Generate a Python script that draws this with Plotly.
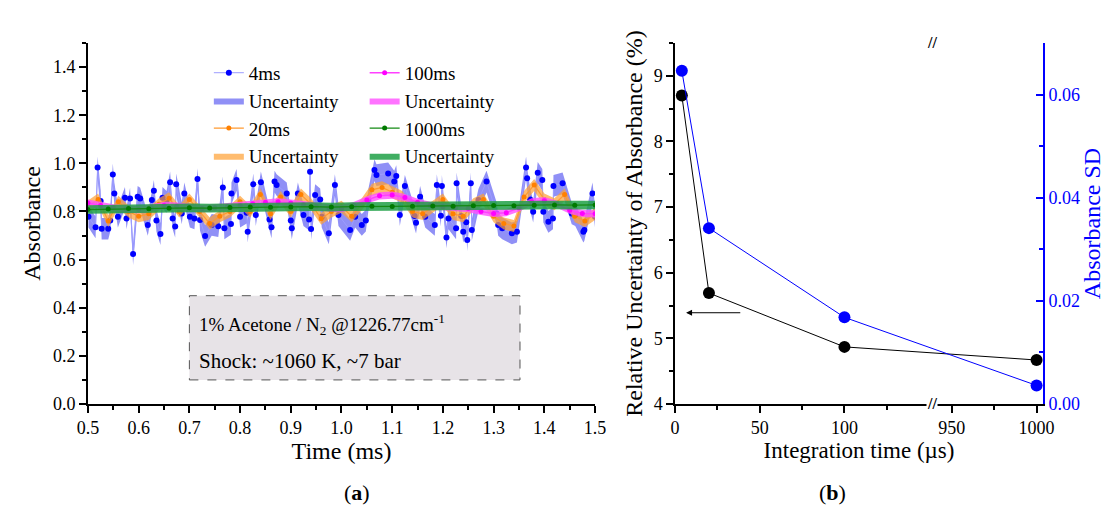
import plotly.graph_objects as go

# ---------------- Panel (a) data ----------------
t4 = [0.501,0.515,0.519,0.525,0.527,0.540,0.544,0.549,0.552,0.559,0.573,0.576,0.583,0.589,0.598,0.603,
      0.618,0.626,0.630,0.635,0.643,0.647,0.655,0.662,0.667,0.672,0.674,0.685,0.690,0.701,0.710,0.716,
      0.721,0.731,0.744,0.757,0.766,0.769,0.782,0.783,0.793,0.800,0.813,0.815,0.826,0.831,0.841,0.858,
      0.862,0.868,0.872,0.892,0.900,0.902,0.914,0.925,0.936,0.938,0.940,0.948,0.958,0.961,0.975,0.987,
      0.994,1.017,1.027,1.040,1.048,1.053,1.065,1.069,1.092,1.104,1.108,1.115,1.125,1.144,1.147,1.155,
      1.165,1.184,1.188,1.196,1.198,1.207,1.211,1.226,1.227,1.236,1.240,1.246,1.248,1.255,1.257,1.270,
      1.286,1.306,1.309,1.317,1.336,1.346,1.364,1.366,1.372,1.378,1.387,1.396,1.398,1.408,1.417,1.418,
      1.436,1.454,1.461,1.477,1.479,1.495,1.500]
v4 = [0.778,0.734,0.983,0.843,0.728,0.728,0.762,0.954,0.875,0.778,0.857,0.771,0.854,0.623,0.861,0.854,
      0.744,0.848,0.886,0.762,0.706,0.857,0.840,0.921,0.771,0.737,0.913,0.792,0.875,0.778,0.771,0.935,
      0.765,0.698,0.744,0.739,0.900,0.730,0.748,0.875,0.931,0.778,0.795,0.716,0.913,0.785,0.921,0.767,
      0.734,0.924,0.910,0.875,0.762,0.730,0.875,0.785,0.767,0.965,0.727,0.868,0.850,0.778,0.709,0.910,
      0.785,0.723,0.778,0.744,0.762,0.848,0.972,0.951,0.958,0.924,0.947,0.785,0.906,0.781,0.753,0.861,
      0.778,0.744,0.910,0.782,0.906,0.692,0.771,0.730,0.917,0.781,0.716,0.755,0.681,0.917,0.723,0.848,
      0.924,0.792,0.744,0.730,0.709,0.716,0.983,0.938,0.850,0.799,0.961,0.931,0.799,0.757,0.771,0.906,
      0.917,0.792,0.785,0.716,0.723,0.875,0.778]

t20 = [0.50,0.52,0.54,0.56,0.58,0.60,0.62,0.64,0.66,0.68,0.70,0.72,0.74,0.76,0.78,0.80,0.82,0.84,0.86,
       0.88,0.90,0.92,0.94,0.96,0.98,1.00,1.02,1.04,1.06,1.08,1.10,1.12,1.14,1.16,1.18,1.20,1.22,1.24,
       1.26,1.28,1.30,1.32,1.34,1.36,1.38,1.40,1.42,1.44,1.46,1.48,1.50]
v20 = [0.82,0.85,0.76,0.84,0.80,0.78,0.79,0.83,0.855,0.80,0.85,0.80,0.75,0.78,0.80,0.84,0.80,0.87,0.79,
       0.86,0.80,0.87,0.83,0.77,0.80,0.82,0.78,0.83,0.89,0.90,0.88,0.86,0.80,0.79,0.82,0.85,0.79,0.78,
       0.83,0.85,0.78,0.75,0.74,0.86,0.91,0.85,0.83,0.87,0.78,0.76,0.79]

t100 = [0.500,0.525,0.550,0.575,0.600,0.625,0.650,0.675,0.700,0.725,0.750,0.775,0.800,0.825,0.850,0.875,
        0.900,0.925,0.950,0.975,1.000,1.025,1.050,1.075,1.100,1.125,1.150,1.175,1.200,1.225,1.250,1.275,
        1.300,1.325,1.350,1.375,1.400,1.425,1.450,1.475,1.500]
v100 = [0.835,0.825,0.815,0.810,0.808,0.815,0.825,0.822,0.818,0.812,0.815,0.820,0.825,0.832,0.838,0.840,
        0.835,0.828,0.822,0.815,0.812,0.825,0.848,0.865,0.868,0.858,0.838,0.825,0.820,0.815,0.812,0.800,
        0.792,0.795,0.815,0.840,0.845,0.830,0.805,0.792,0.790]

t1000 = [0.50,0.54,0.58,0.62,0.66,0.70,0.74,0.78,0.82,0.86,0.90,0.94,0.98,1.02,1.06,1.10,1.14,1.18,1.22,
         1.26,1.30,1.34,1.38,1.42,1.46,1.50]
v1000 = [0.808,0.810,0.812,0.811,0.813,0.815,0.814,0.816,0.818,0.817,0.819,0.820,0.818,0.820,0.822,0.821,
         0.822,0.823,0.822,0.824,0.825,0.824,0.826,0.827,0.826,0.827]

unc4, unc20, unc100, unc1000 = 0.045, 0.025, 0.015, 0.018

# ---------------- Panel (b) data ----------------
int_time = [4, 20, 100, 1000]
rel_unc = [8.70, 5.69, 4.87, 4.67]
abs_sd = [0.0646, 0.0341, 0.0168, 0.0036]
xb_tickvals = [0, 50, 100, 950, 1000]
xb_minor = [25, 75, 125, 975]
BREAK_LO, BREAK_HI = 151.7, 938.3


def brk(v):
    return v if v <= BREAK_LO else v - (BREAK_HI - BREAK_LO)


FONT = "Liberation Serif"
fig = go.Figure()


def add_series(t, v, unc, name, lcolor, mcolor, bandcolor, msize, lwidth, legend, r):
    fig.add_trace(go.Scatter(x=t, y=[a + unc for a in v], mode="lines", line=dict(width=0),
                             showlegend=False, hoverinfo="skip", xaxis="x", yaxis="y"))
    fig.add_trace(go.Scatter(x=t, y=[a - unc for a in v], mode="lines", line=dict(width=0),
                             fill="tonexty", fillcolor=bandcolor, name="Uncertainty",
                             legend=legend, legendrank=r + 1, xaxis="x", yaxis="y"))
    fig.add_trace(go.Scatter(x=t, y=v, mode="lines+markers", name=name,
                             line=dict(color=lcolor, width=lwidth),
                             marker=dict(color=mcolor, size=msize), legend=legend,
                             legendrank=r, xaxis="x", yaxis="y"))


add_series(t4, v4, unc4, "4ms", "#9c9cff", "#0000ff", "rgba(70,70,240,0.6)", 6, 1, "legend", 1)
add_series(t20, v20, unc20, "20ms", "#ff9a30", "#ff8000", "rgba(255,160,50,0.7)", 5, 1.2, "legend", 3)
add_series(t100, v100, unc100, "100ms", "#ff40ff", "#ff00ff", "rgba(255,80,255,0.8)", 5, 1.5, "legend2", 1)
add_series(t1000, v1000, unc1000, "1000ms", "#138a13", "#007a00", "rgba(30,160,70,0.85)", 5, 1.2, "legend2", 3)

# panel (b)
fig.add_trace(go.Scatter(x=[brk(v) for v in int_time], y=rel_unc, mode="lines+markers",
                         line=dict(color="black", width=1), marker=dict(color="black", size=12),
                         showlegend=False, xaxis="x2", yaxis="y2"))
fig.add_trace(go.Scatter(x=[brk(v) for v in int_time], y=abs_sd, mode="lines+markers",
                         line=dict(color="#0000ff", width=1), marker=dict(color="#0000ff", size=12),
                         showlegend=False, xaxis="x2", yaxis="y4"))

dom_y = [0.2125, 0.9162]
dom_a = [0.0796, 0.5385]
dom_b = [0.6109, 0.9439]
tickfont = dict(family=FONT, size=18, color="black")


def tf(size, color="black"):
    return dict(family=FONT, size=size, color=color)


common = dict(showgrid=False, zeroline=False, showline=True, linecolor="black", linewidth=1.5,
              ticks="outside", ticklen=7, tickwidth=1.5, tickcolor="black", automargin=False,
              tickfont=tickfont)

xr_b = [0, brk(1003.8)]

fig.update_layout(
    width=1105, height=513, margin=dict(l=0, r=0, t=0, b=0),
    paper_bgcolor="white", plot_bgcolor="white",
    font=dict(family=FONT, color="black"),
    xaxis=dict(domain=dom_a, anchor="y", range=[0.5, 1.5], dtick=0.1, tick0=0.5, tickformat=".1f",
               minor=dict(dtick=0.05, ticklen=4, tickwidth=1.5, ticks="outside", tickcolor="black"),
               title=dict(text="Time (ms)", font=tf(24), standoff=4), **common),
    yaxis=dict(domain=dom_y, anchor="x", range=[0, 1.5], dtick=0.2, tickformat=".1f",
               minor=dict(dtick=0.1, ticklen=4, tickwidth=1.5, ticks="outside", tickcolor="black"),
               title=dict(text="Absorbance", font=tf(24), standoff=6), **common),
    xaxis3=dict(overlaying="x", side="top", anchor="y", range=[0.5, 1.5], dtick=0.1, tick0=0.5,
                showticklabels=False, showgrid=False, zeroline=False, showline=True, linecolor="black",
                linewidth=1.5, ticks="inside", ticklen=7, tickwidth=1.5, tickcolor="black",
                minor=dict(dtick=0.05, ticklen=4, tickwidth=1.5, ticks="inside", tickcolor="black")),
    yaxis3=dict(overlaying="y", side="right", anchor="x", range=[0, 1.5], dtick=0.2,
                showticklabels=False, showgrid=False, zeroline=False, showline=True, linecolor="black",
                linewidth=1.5, ticks="inside", ticklen=7, tickwidth=1.5, tickcolor="black",
                minor=dict(dtick=0.1, ticklen=4, tickwidth=1.5, ticks="inside", tickcolor="black")),
    xaxis2=dict(domain=dom_b, anchor="y2", range=xr_b, tickmode="array",
                tickvals=[brk(v) for v in xb_tickvals], ticktext=[str(v) for v in xb_tickvals],
                minor=dict(tickmode="array", tickvals=[brk(v) for v in xb_minor], ticklen=4,
                           tickwidth=1.5, ticks="outside", tickcolor="black"),
                title=dict(text="Integration time (µs)", font=tf(23), standoff=4), **common),
    yaxis2=dict(domain=dom_y, anchor="x2", range=[4, 9.5], dtick=1,
                minor=dict(dtick=0.5, ticklen=4, tickwidth=1.5, ticks="outside", tickcolor="black"),
                title=dict(text="Relative Uncertainty of Absorbance (%)", font=tf(24), standoff=4),
                **common),
    xaxis5=dict(overlaying="x2", side="top", anchor="y2", range=xr_b, tickmode="array",
                tickvals=[brk(v) for v in xb_tickvals], showticklabels=False, showgrid=False,
                zeroline=False, showline=True, linecolor="black", linewidth=1.5, ticks="inside",
                ticklen=7, tickwidth=1.5, tickcolor="black",
                minor=dict(tickmode="array", tickvals=[brk(v) for v in xb_minor], ticklen=4,
                           tickwidth=1.5, ticks="inside", tickcolor="black")),
    yaxis4=dict(overlaying="y2", side="right", anchor="x2", range=[0, 0.07], dtick=0.02,
                tickformat=".2f", showgrid=False, zeroline=False, showline=True, linecolor="#0000ff",
                linewidth=2, ticks="inside", ticklen=7, tickwidth=1.5, tickcolor="#0000ff",
                tickfont=tf(18, "#0000ff"), automargin=False,
                minor=dict(dtick=0.01, ticklen=4, tickwidth=1.5, ticks="inside", tickcolor="#0000ff"),
                title=dict(text="Absorbance SD", font=tf(24, "#0000ff"), standoff=6)),
    legend=dict(x=0.189, y=0.895, xanchor="left", yanchor="top", bgcolor="rgba(0,0,0,0)",
                font=tf(19), tracegroupgap=0, traceorder="normal"),
    legend2=dict(x=0.330, y=0.895, xanchor="left", yanchor="top", bgcolor="rgba(0,0,0,0)",
                 font=tf(19), tracegroupgap=0, traceorder="normal"),
)

# annotation box in panel (a)
fig.add_shape(type="rect", xref="x", yref="y", x0=0.70, x1=1.352, y0=0.10, y1=0.45,
              line=dict(color="#555555", width=1, dash="dash"), fillcolor="#e7e3e7", layer="below")
fig.add_annotation(xref="x", yref="y", x=0.715, y=0.33, xanchor="left", showarrow=False,
                   text="1% Acetone / N<sub>2</sub> @1226.77cm<sup>-1</sup>", font=tf(19))
fig.add_annotation(xref="x", yref="y", x=0.715, y=0.18, xanchor="left", showarrow=False,
                   text="Shock: ~1060 K, ~7 bar", font=tf(21))

# arrow in panel (b)
fig.add_annotation(xref="x2", yref="y2", x=6.5, y=5.39, axref="x2", ayref="y2", ax=39.4, ay=5.39,
                   text="", showarrow=True, arrowhead=2, arrowsize=1.2, arrowwidth=1, arrowcolor="black")

# axis break marks
for yy in (0, 1):
    fig.add_annotation(xref="x2", yref="y2 domain", x=BREAK_LO, y=yy, text="<b>//</b>", showarrow=False,
                       xanchor="center", yanchor="middle", font=tf(16), bgcolor="white", borderpad=0)

# panel labels
fig.add_annotation(xref="paper", yref="paper", x=0.3095, y=0.039, yanchor="middle", text="(<b>a</b>)",
                   showarrow=False, font=tf(22))
fig.add_annotation(xref="paper", yref="paper", x=0.767, y=0.039, yanchor="middle", text="(<b>b</b>)",
                   showarrow=False, font=tf(22))

fig.write_html("out.html")
